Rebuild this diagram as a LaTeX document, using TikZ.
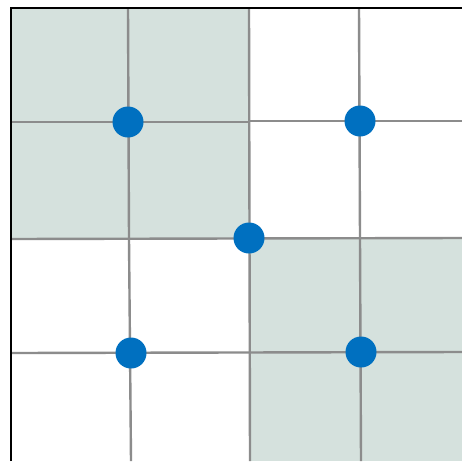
\documentclass[tikz,border=0pt]{standalone}
\definecolor{shadegreen}{HTML}{D5E1DD}
\definecolor{gridgray}{HTML}{8C8C8C}
\definecolor{dotblue}{HTML}{0070C0}
\begin{document}
\begin{tikzpicture}[x=1pt,y=-1pt,
  gridline/.style={draw=gridgray,line width=2.4pt},
  dot/.style={circle,fill=dotblue,minimum size=31pt,inner sep=0pt}]
\useasboundingbox (0,0) rectangle (462,461);
\fill[white] (0,0) rectangle (462,461);
\fill[shadegreen] (11,8) rectangle (249,239);
\fill[shadegreen] (249,239) rectangle (462,461);
% grid lines
\draw[gridline] (128,8) -- (129,239);
\draw[gridline] (129,239) -- (131,461);
\draw[gridline] (359,8) -- (360,239);
\draw[gridline] (360,239) -- (361,461);
\draw[gridline] (249,8) -- (250,461);
\draw[gridline] (11,122) -- (249,122);
\draw[gridline] (249,121) -- (462,121);
\draw[gridline] (11,239) -- (462,238);
\draw[gridline] (11,353) -- (462,352);
% border
\draw[black,line width=2.2pt] (11,461) -- (11,8) -- (462,8);
% dots
\node[dot] (a) at (128,122) {};
\node[dot] (b) at (360,121) {};
\node[dot] (c) at (249,238) {};
\node[dot] (d) at (131,353) {};
\node[dot] (e) at (361,352) {};
\end{tikzpicture}
\end{document}
